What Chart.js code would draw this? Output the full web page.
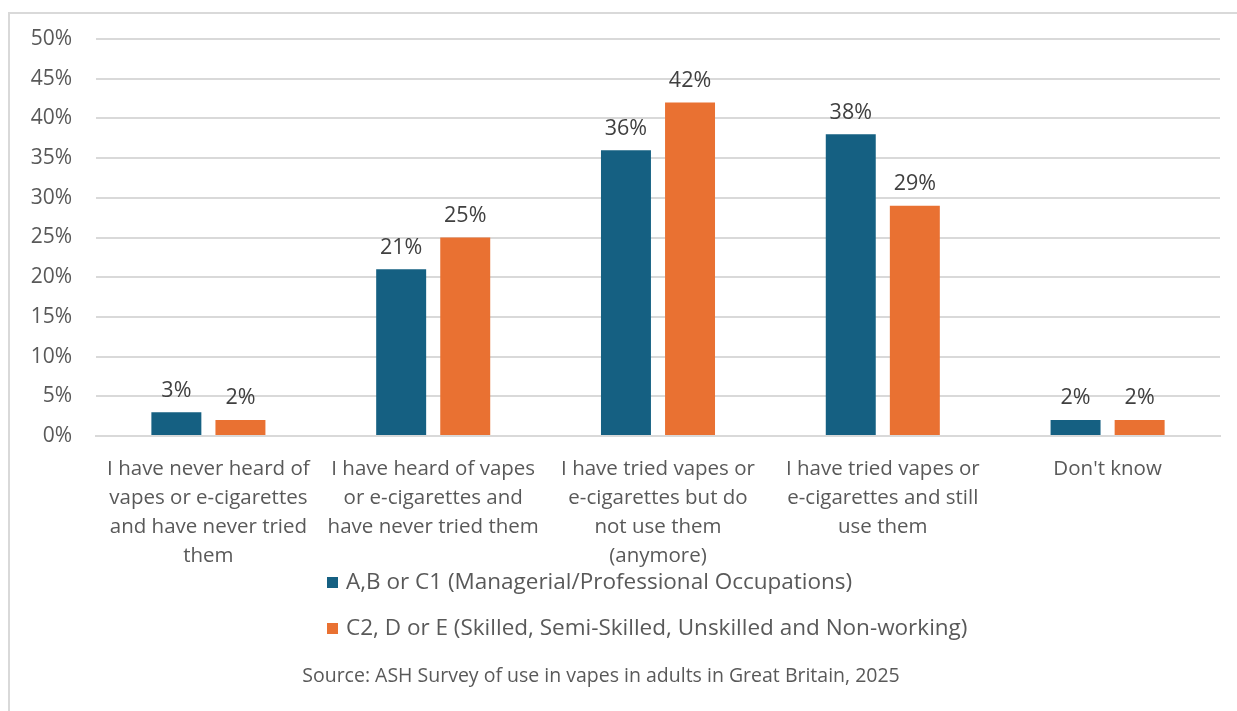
<!DOCTYPE html>
<html>
<head>
<meta charset="utf-8">
<script src="https://cdn.jsdelivr.net/npm/chart.js@4.4.1/dist/chart.umd.min.js"></script>
<style>
  body { margin: 0; background: #fff; font-family: "Open Sans", sans-serif; }
  #frame { position: absolute; left: 8px; top: 12px; width: 1300px; height: 800px; border: 2px solid #d9d9d9; box-sizing: border-box; }
  #wrap { position: absolute; left: 0; top: 0; width: 1237px; height: 711px; }
  #legend { position: absolute; left: 327px; top: 565px; color: #595959; font-size: 22.5px; }
  .item { height: 46px; display: flex; align-items: flex-start; }
  .box { width: 11px; height: 11px; margin: 12px 8px 0 0; }
  #source { position: absolute; left: 0; width: 1202px; top: 661px; text-align: center; color: #595959; font-size: 19.5px; }
</style>
</head>
<body>
<div id="frame"></div>
<div id="wrap"><canvas id="myChart" width="1237" height="711"></canvas></div>
<div id="legend"></div>
<div id="source">Source: ASH Survey of use in vapes in adults in Great Britain, 2025</div>
<script>
var categories = [
  ["I have never heard of", "vapes or e-cigarettes", "and have never tried", "them"],
  ["I have heard of vapes", "or e-cigarettes and", "have never tried them"],
  ["I have tried vapes or", "e-cigarettes but do", "not use them", "(anymore)"],
  ["I have tried vapes or", "e-cigarettes and still", "use them"],
  ["Don't know"]
];
var seriesNames = [
  "A,B or C1 (Managerial/Professional Occupations)",
  "C2, D or E (Skilled, Semi-Skilled, Unskilled and Non-working)"
];
var abc1 = [3, 21, 36, 38, 2];
var c2de = [2, 25, 42, 29, 2];
var yTicks = [0, 5, 10, 15, 20, 25, 30, 35, 40, 45, 50];
var colors = ["#156082", "#E97132"];

var labelPlugin = {
  id: "valueLabels",
  afterDatasetsDraw: function(chart) {
    var ctx = chart.ctx;
    ctx.save();
    ctx.font = "21.5px 'Open Sans'";
    ctx.fillStyle = "#404040";
    ctx.textAlign = "center";
    ctx.textBaseline = "bottom";
    chart.data.datasets.forEach(function(ds, i) {
      chart.getDatasetMeta(i).data.forEach(function(bar, j) {
        ctx.fillText(ds.data[j] + "%", bar.x, bar.y - 11);
      });
    });
    ctx.restore();
  }
};

var myChart = new Chart("myChart", {
  type: "bar",
  data: {
    labels: categories,
    datasets: [
      { label: seriesNames[0], data: abc1, backgroundColor: colors[0] },
      { label: seriesNames[1], data: c2de, backgroundColor: colors[1] }
    ]
  },
  options: {
    responsive: false,
    animation: false,
    categoryPercentage: 0.57,
    barPercentage: 0.78,
    layout: { padding: { left: 0, top: 39, right: 17, bottom: 135 } },
    plugins: { legend: { display: false }, tooltip: { enabled: false } },
    scales: {
      x: {
        grid: { display: false },
        border: { display: true, color: "#d9d9d9", width: 2 },
        ticks: { color: "#595959", font: { family: "Open Sans", size: 20.5, lineHeight: 1.43 }, padding: 10, maxRotation: 0, autoSkip: false },
        afterFit: function(s) { s.height = 140; }
      },
      y: {
        min: 0, max: 50,
        afterBuildTicks: function(s) { s.ticks = yTicks.map(function(v) { return { value: v }; }); },
        grid: { color: "#d9d9d9", lineWidth: 2, drawTicks: false },
        border: { display: false },
        ticks: { color: "#595959", font: { family: "Open Sans", size: 21 }, padding: 24, callback: function(v) { return v + "%"; } },
        afterFit: function(s) { s.width = 96; }
      }
    }
  },
  plugins: [labelPlugin]
});

var legend = document.getElementById("legend");
myChart.data.datasets.forEach(function(ds) {
  var item = document.createElement("div");
  item.className = "item";
  item.innerHTML = '<div class="box" style="background:' + ds.backgroundColor + '"></div><span>' + ds.label + '</span>';
  legend.appendChild(item);
});
</script>
</body>
</html>
